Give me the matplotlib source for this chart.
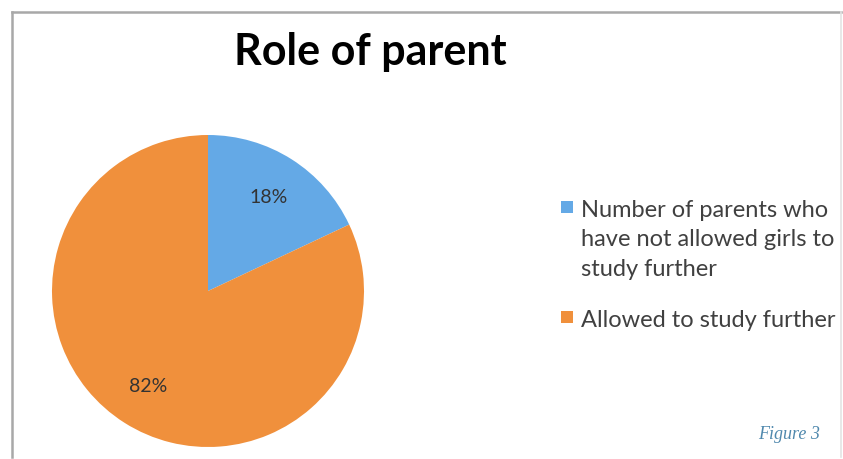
import matplotlib
matplotlib.use("Agg")
import matplotlib.pyplot as plt
from matplotlib.lines import Line2D
from matplotlib.patches import Rectangle

plt.rcParams["font.family"] = ["Lato", "DejaVu Sans"]

# Parent survey shares
categories = [
    "Number of parents who\nhave not allowed girls to\nstudy further",
    "Allowed to study further",
]
shares = [18, 82]
colors = ["#64a9e6", "#f0903c"]

W, H = 843, 460
fig = plt.figure(figsize=(W / 100, H / 100), dpi=100, facecolor="white")


def px(x, y):
    """Pixel position (from top-left) to figure fraction."""
    return x / W, 1 - y / H


# Pie axes: centre (208, 292), radius 156 px
cx, cy, r = 208, 292, 156
ax = fig.add_axes([(cx - r) / W, (H - cy - r) / H, 2 * r / W, 2 * r / H])
wedges, texts, autotexts = ax.pie(
    shares,
    colors=colors,
    startangle=90,
    counterclock=False,
    autopct="%d%%",
    pctdistance=0.72,
    wedgeprops=dict(linewidth=0),
    textprops=dict(fontsize=14, color="#333333"),
)
ax.set_xlim(-1, 1)
ax.set_ylim(-1, 1)
ax.set_aspect("equal")
ax.axis("off")

# Title
fig.text(*px(370, 65), "Role of parent", ha="center", va="baseline",
         fontsize=31, fontweight="bold", color="black")

# Legend: square marker beside the first line of each entry
first_baselines = [217, 327]
line_step = 29.5
for label, color, base in zip(categories, colors, first_baselines):
    fig.add_artist(Rectangle(px(561, base - 3), 12 / W, 12 / H,
                             facecolor=color, edgecolor="none",
                             transform=fig.transFigure))
    for i, line in enumerate(label.split("\n")):
        fig.text(*px(581, base + i * line_step), line, ha="left",
                 va="baseline", fontsize=17, color="#404040")

# Caption
fig.text(*px(820, 439), "Figure 3", ha="right", va="baseline",
         fontsize=13, style="italic", color="#4f88ad",
         family=["Liberation Serif", "DejaVu Serif"])

# Chart frame
frame_kw = dict(color="#a8a8a8", linewidth=1.8, transform=fig.transFigure)
fig.add_artist(Line2D(*zip(px(12, 13), px(841, 13)), **frame_kw))
fig.add_artist(Line2D(*zip(px(12, 13), px(12, 458)), **frame_kw))
fig.add_artist(Line2D(*zip(px(841, 13), px(841, 458)), color="#e4e4e4",
                      linewidth=1.2, transform=fig.transFigure))

fig.savefig("out.png", dpi=100, facecolor="white")
